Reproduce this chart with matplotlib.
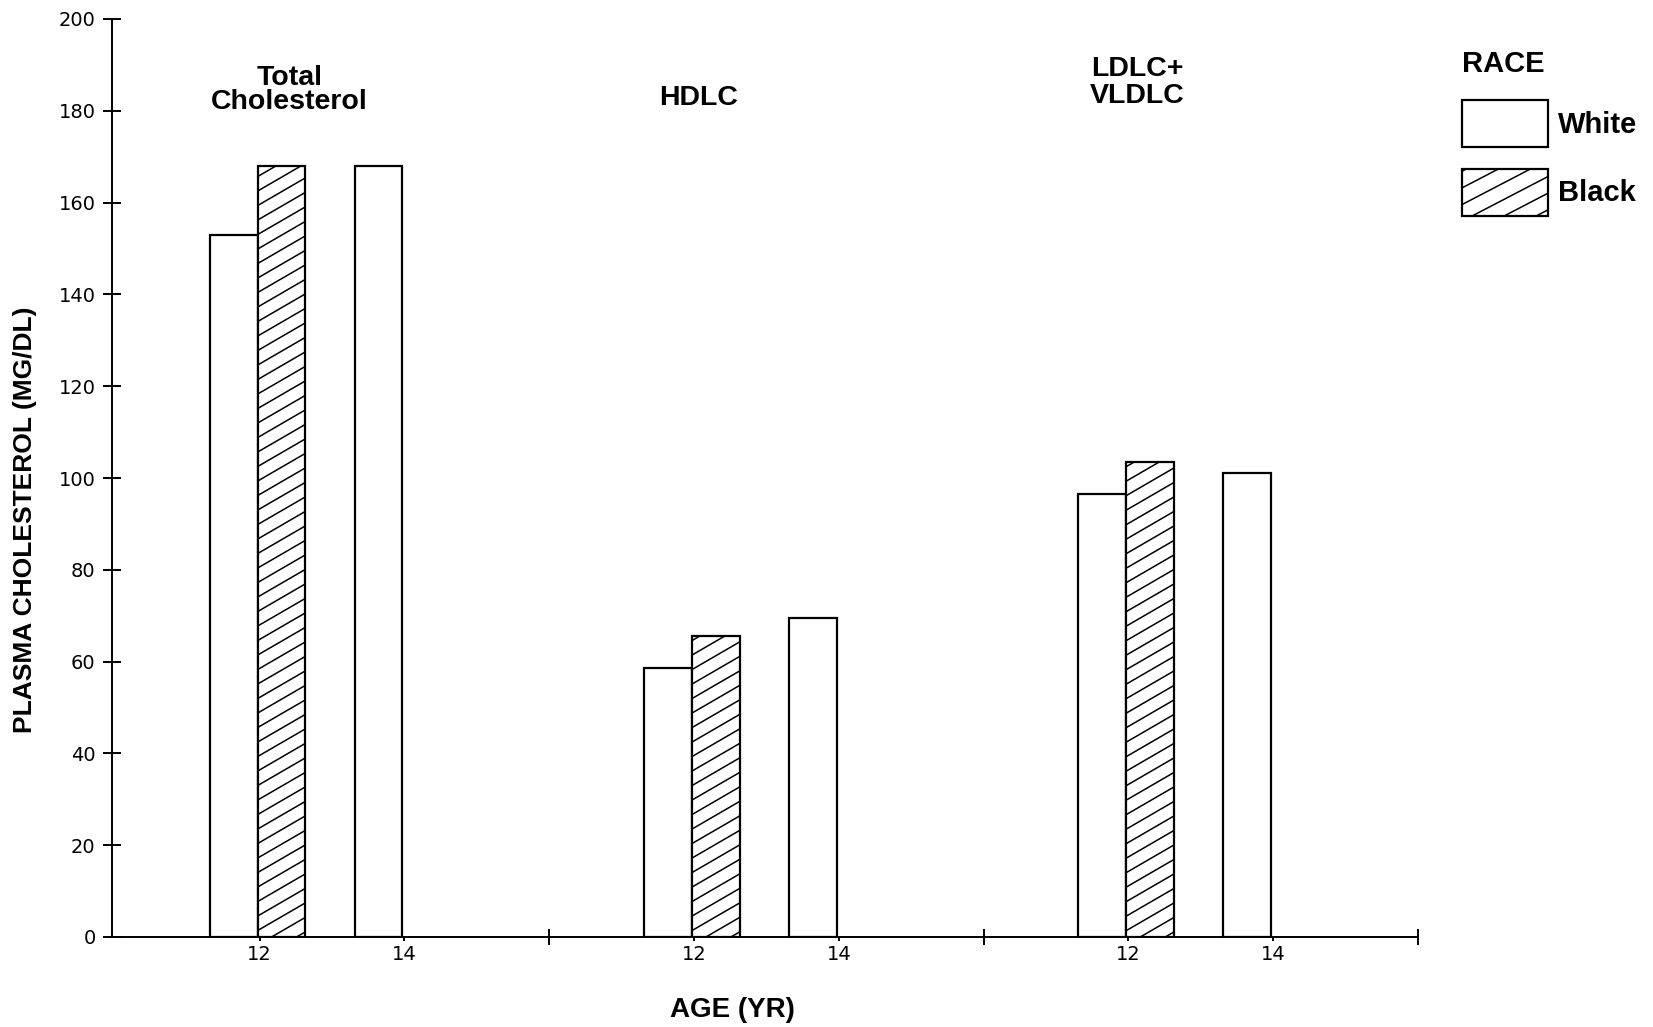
import numpy as np
import matplotlib
matplotlib.use("Agg")
import matplotlib.pyplot as plt
from matplotlib.patches import Rectangle, Patch
from matplotlib.collections import LineCollection
from matplotlib.legend_handler import HandlerBase

# ---------------- data ----------------
groups = ["Total\nCholesterol", "HDLC", "LDLC+\nVLDLC"]
ages = [12, 14]
age_labels = ["12", "14"]
white_12 = [153, 58.5, 96.5]
black_12 = [168, 65.5, 103.5]
white_14 = [168, 69.5, 101]
race_labels = ["White", "Black"]
yticks = [0, 20, 40, 60, 80, 100, 120, 140, 160, 180, 200]

# ---------------- layout / style ----------------
W, H = 1653, 1027
DPI = 100
GROUP_STEP = 6          # x units between the groups
BAR_W = 0.66
LW = 1.6
HATCH_SLOPE = 0.58
HATCH_SPACING_PX = 14.5
BOLD = "Liberation Sans"
TICKFONT = "DejaVu Sans"

fig = plt.figure(figsize=(W / DPI, H / DPI), dpi=DPI)
ax = fig.add_axes([112 / W, 1 - 937 / H, (1418 - 112) / W, (937 - 19) / H])
ax.set_xlim(9.96, 28)
ax.set_ylim(0, 200)

for s in ("top", "right"):
    ax.spines[s].set_visible(False)
for s in ("left", "bottom"):
    ax.spines[s].set_linewidth(1.4)


def hatch_segments(x0, x1, y0, y1, slope, spacing):
    """Segments of lines y = slope*x + c clipped to a rectangle (isotropic units)."""
    segs = []
    cmax = y1 - slope * x0
    c = y0 - slope * x1 + spacing * 0.35
    while c < cmax:
        xa = max(x0, (y0 - c) / slope)
        xb = min(x1, (y1 - c) / slope)
        if xb > xa:
            segs.append([(xa, slope * xa + c), (xb, slope * xb + c)])
        c += spacing
    return segs


hatched_bars = []
for g in range(len(groups)):
    base = g * GROUP_STEP
    x12 = base + ages[0]
    x14 = base + ages[1]
    ax.bar(x12 - 0.03, white_12[g], width=-BAR_W, align="edge",
           facecolor="white", edgecolor="black", linewidth=LW, zorder=2)
    b = ax.bar(x12 - 0.03, black_12[g], width=BAR_W, align="edge",
               facecolor="white", edgecolor="black", linewidth=LW, zorder=2)
    hatched_bars.extend(b.patches)
    ax.bar(x14 - 0.03, white_14[g], width=-BAR_W, align="edge",
           facecolor="white", edgecolor="black", linewidth=LW, zorder=2)

# diagonal hatching inside the Black bars (computed in pixel space)
tr = ax.transData
inv = tr.inverted()
for p in hatched_bars:
    x0, y0 = p.get_x(), p.get_y()
    x1, y1 = x0 + p.get_width(), y0 + p.get_height()
    (px0, py0), (px1, py1) = tr.transform([(x0, y0), (x1, y1)])
    segs = hatch_segments(min(px0, px1), max(px0, px1), min(py0, py1), max(py0, py1),
                          HATCH_SLOPE, HATCH_SPACING_PX)
    segs_data = [inv.transform(np.array(s)) for s in segs]
    ax.add_collection(LineCollection(segs_data, colors="black", linewidths=1.1, zorder=3))

# ticks
ax.set_yticks(yticks)
ax.set_yticklabels([str(v) for v in yticks])
ax.tick_params(axis="y", direction="inout", length=13.5, width=1.4, pad=5,
               labelsize=14)
xt = [g * GROUP_STEP + a for g in range(len(groups)) for a in ages]
ax.set_xticks(xt)
ax.set_xticklabels(age_labels * len(groups))
ax.set_xticks([16, 22, 28], minor=True)
ax.tick_params(axis="x", which="major", direction="out", length=3, width=1.4,
               pad=3, labelsize=14)
ax.tick_params(axis="x", which="minor", direction="inout", length=11, width=1.4)
for lab in ax.get_xticklabels() + ax.get_yticklabels():
    lab.set_fontfamily(TICKFONT)

ax.set_ylabel("PLASMA CHOLESTEROL (MG/DL)", fontfamily=BOLD, fontweight="bold",
              fontsize=19)
ax.yaxis.set_label_coords(37 / W, 1 - 520 / H, transform=fig.transFigure)
ax.set_xlabel("AGE (YR)", fontfamily=BOLD, fontweight="bold", fontsize=20)
ax.xaxis.set_label_coords(732 / W, 1 - 1010 / H, transform=fig.transFigure)
ax.xaxis.label.set_va("center")

# group titles
title_x = [12.41, 18.06, 24.12]
title_y = [184.5, 182.7, 186.2]
title_ls = [0.92, 1.0, 1.05]
for g, name in enumerate(groups):
    ax.text(title_x[g], title_y[g], name, ha="center", va="center",
            multialignment="center", fontfamily=BOLD, fontweight="bold",
            fontsize=20.5, linespacing=title_ls[g])


# legend with custom hatched handle
class RaceHandler(HandlerBase):
    def __init__(self, hatched):
        super().__init__()
        self.hatched = hatched

    def create_artists(self, legend, orig_handle, xdescent, ydescent, width,
                       height, fontsize, trans):
        x0, y0 = -xdescent, -ydescent
        arts = [Rectangle((x0, y0), width, height, facecolor="white",
                          edgecolor="none", transform=trans)]
        if self.hatched:
            segs = hatch_segments(x0, x0 + width, y0, y0 + height, 0.52, 12.0)
            arts.append(LineCollection(segs, colors="black", linewidths=1.1,
                                       transform=trans))
        arts.append(Rectangle((x0, y0), width, height, facecolor="none",
                              edgecolor="black", linewidth=LW, transform=trans))
        return arts


h_white = Patch(facecolor="white", edgecolor="black", label=race_labels[0])
h_black = Patch(facecolor="white", edgecolor="black", label=race_labels[1])
leg = fig.legend(handles=[h_white, h_black], labels=race_labels,
                 title="RACE", loc="upper left",
                 bbox_to_anchor=(1462 / W, 1 - 50 / H),
                 frameon=False, borderpad=0, borderaxespad=0,
                 handlelength=2.95, handleheight=2.1, handletextpad=0.34,
                 labelspacing=0.75, alignment="left",
                 prop={"family": BOLD, "weight": "bold", "size": 21},
                 title_fontproperties={"family": BOLD, "weight": "bold", "size": 21},
                 handler_map={h_white: RaceHandler(False), h_black: RaceHandler(True)})

fig.savefig("out.png", dpi=DPI, facecolor="white")
